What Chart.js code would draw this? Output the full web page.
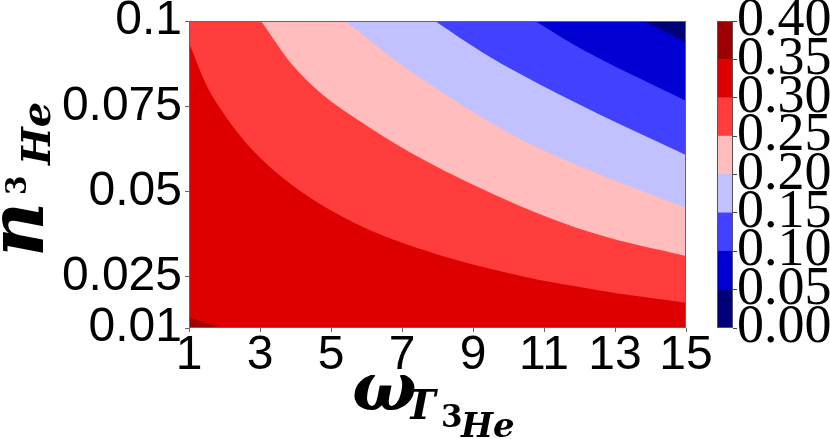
<!DOCTYPE html>
<html lang="en">
<head>
<meta charset="UTF-8">
<title>n_3He vs omega_T3He contour</title>
<script src="https://cdn.jsdelivr.net/npm/chart.js"></script>
<style>
    html, body { margin: 0; padding: 0; background: #fff; }
    #wrap { position: relative; width: 830px; height: 439px; overflow: hidden; }
    #mainBox { position: absolute; left: 0; top: 0; width: 830px; height: 439px; }
    #cbBox { position: absolute; left: 700px; top: 0; width: 130px; height: 439px; }
    .m { position: absolute; line-height: 1; white-space: nowrap; color: #000;
         font-family: 'DejaVu Serif', serif; font-weight: bold; font-style: italic; }
    .up { font-style: normal; }
    #ylab { position: absolute; left: 0; top: 257px; width: 170px; height: 60px;
            transform: rotate(-90deg); transform-origin: 0 0; }
</style>
</head>
<body>
<div id="wrap">
    <div id="mainBox"><canvas id="main"></canvas></div>
    <div id="cbBox"><canvas id="cb"></canvas></div>

    <!-- y axis title: n_{^3He} -->
    <div id="ylab">
        <span class="m" style="left:0; top:-21px; font-size:76px;">n</span>
        <span class="m up" style="left:62px; top:3px; font-size:28px;">3</span>
        <span class="m" style="left:92px; top:16px; font-size:40px;">He</span>
    </div>

    <!-- x axis title: omega_{T_{^3He}} -->
    <span class="m" style="left:352px; top:352px; font-size:68px;">ω</span>
    <span class="m" style="left:405px; top:385px; font-size:41px;">T</span>
    <span class="m up" style="left:441px; top:401px; font-size:31px;">3</span>
    <span class="m" style="left:461px; top:408px; font-size:34px;">He</span>
</div>

<script>
    // axis ranges and ticks
    const omegaRange = [1, 15];
    const nRange = [0.01, 0.1];
    const xTicks = [1, 3, 5, 7, 9, 11, 13, 15];
    const yTicks = [0.01, 0.025, 0.05, 0.075, 0.1];
    const yTickLabels = ['0.01', '0.025', '0.05', '0.075', '0.1'];

    // colorbar levels and band colours (seismic)
    const cbTicks = [0.00, 0.05, 0.10, 0.15, 0.20, 0.25, 0.30, 0.35, 0.40];
    const bandColors = ['#000079', '#0000d3', '#4141ff', '#c1c1ff',
                        '#ffbdbd', '#ff3d3d', '#de0000', '#9d0000'];

    // contour boundaries (omega, n)
    const omega05 = [13.8, 14.39, 15];
    const n05     = [0.1, 0.0969, 0.0936];
    const omega10 = [10.75, 11.59, 12.52, 15];
    const n10     = [0.1, 0.0946, 0.0892, 0.0766];
    const omega15 = [7.93, 9.28, 10.32, 12.52, 15];
    const n15     = [0.1, 0.0907, 0.0845, 0.0728, 0.0607];
    const omega20 = [5.39, 5.54, 6.94, 8.35, 10.32, 12.52, 15];
    const n20     = [0.1, 0.0988, 0.0874, 0.0776, 0.0654, 0.0552, 0.0452];
    const omega25 = [3.03, 3.89, 4.74, 5.54, 7.41, 10.32, 12.52, 15];
    const n25     = [0.1, 0.0874, 0.0786, 0.0725, 0.0604, 0.0458, 0.0374, 0.0311];
    const omega30 = [1, 1.5, 2, 2.67, 3.89, 5.68, 7.41, 10.32, 12.52, 15];
    const n30     = [0.0936, 0.081, 0.0725, 0.0635, 0.052, 0.0407, 0.0335, 0.0253, 0.0211, 0.0174];
    const omega35 = [1, 1.45, 1.92];
    const n35     = [0.0132, 0.0115, 0.01];

    function pts(xs, ys) {
        return xs.map((x, i) => ({ x: x, y: ys[i] }));
    }

    function band(xs, ys, color, fill, order) {
        return {
            data: pts(xs, ys),
            backgroundColor: color,
            borderColor: 'rgba(0,0,0,0)',
            borderWidth: 0,
            pointRadius: 0,
            fill: fill,
            order: order,
            cubicInterpolationMode: 'monotone'
        };
    }

    // frame around the plotting area
    const frame = {
        id: 'frame',
        afterDraw(chart, args, opts) {
            const a = chart.chartArea, c = chart.ctx;
            c.save();
            c.strokeStyle = opts.color || '#555';
            c.lineWidth = 1;
            c.strokeRect(a.left + 0.5, a.top + 0.5, a.right - a.left - 1, a.bottom - a.top - 1);
            c.restore();
        }
    };

    const sansTick = { family: 'Liberation Sans', size: 48 };

    new Chart(document.getElementById('main'), {
        type: 'line',
        data: {
            datasets: [
                band(omegaRange, [nRange[1], nRange[1]], bandColors[6], 'start', 10),
                band(omega30, n30, bandColors[5], 'end', 6),
                band(omega25, n25, bandColors[4], 'end', 5),
                band(omega20, n20, bandColors[3], 'end', 4),
                band(omega15, n15, bandColors[2], 'end', 3),
                band(omega10, n10, bandColors[1], 'end', 2),
                band(omega05, n05, bandColors[0], 'end', 1),
                band(omega35, n35, bandColors[7], 'start', 0)
            ]
        },
        options: {
            animation: false,
            responsive: true,
            maintainAspectRatio: false,
            devicePixelRatio: 1,
            layout: { padding: { left: 0, top: 21, right: 144, bottom: 0 } },
            plugins: { legend: { display: false }, tooltip: { enabled: false }, frame: { color: '#666' } },
            scales: {
                x: {
                    type: 'linear', min: omegaRange[0], max: omegaRange[1],
                    afterBuildTicks: s => { s.ticks = xTicks.map(v => ({ value: v })); },
                    afterFit: s => { s.height = 111; s.paddingLeft = 0; s.paddingRight = 0; },
                    ticks: { autoSkip: false, maxRotation: 0, padding: 0, color: '#000',
                             font: Object.assign({ lineHeight: 1 }, sansTick),
                             callback: v => String(v) },
                    grid: { drawOnChartArea: false, tickLength: 4, color: '#666' },
                    border: { display: false }
                },
                y: {
                    type: 'linear', min: nRange[0], max: nRange[1],
                    afterBuildTicks: s => { s.ticks = yTicks.map(v => ({ value: v })); },
                    afterFit: s => { s.width = 189; s.paddingTop = 0; s.paddingBottom = 0; },
                    ticks: { autoSkip: false, padding: 3, color: '#000', font: sansTick,
                             callback: (v, i) => yTickLabels[i] },
                    grid: { drawOnChartArea: false, tickLength: 4, color: '#666' },
                    border: { display: false }
                }
            }
        },
        plugins: [frame]
    });

    // colorbar
    new Chart(document.getElementById('cb'), {
        type: 'bar',
        data: {
            labels: [''],
            datasets: bandColors.map((c, i) => ({
                data: [[cbTicks[i], cbTicks[i + 1]]],
                backgroundColor: c,
                borderWidth: 0,
                barPercentage: 1,
                categoryPercentage: 1,
                grouped: false
            }))
        },
        options: {
            animation: false,
            responsive: true,
            maintainAspectRatio: false,
            devicePixelRatio: 1,
            layout: { padding: { left: 17, top: 21, right: 0, bottom: 111 } },
            plugins: { legend: { display: false }, tooltip: { enabled: false }, frame: { color: '#555' } },
            scales: {
                x: { display: false },
                y: {
                    position: 'right', min: cbTicks[0], max: cbTicks[cbTicks.length - 1],
                    afterBuildTicks: s => { s.ticks = cbTicks.map(v => ({ value: v })); },
                    afterFit: s => { s.width = 97; s.paddingTop = 0; s.paddingBottom = 0; },
                    ticks: { autoSkip: false, padding: 0, color: '#000',
                             font: { family: 'Liberation Serif', size: 54 },
                             callback: v => v.toFixed(2) },
                    grid: { drawOnChartArea: false, tickLength: 4, color: '#444' },
                    border: { display: false }
                }
            }
        },
        plugins: [frame]
    });
</script>
</body>
</html>
